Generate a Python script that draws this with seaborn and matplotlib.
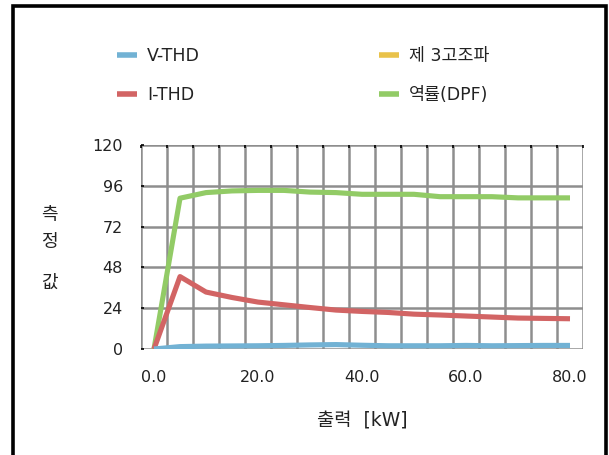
import numpy as np
import pandas as pd
import matplotlib
matplotlib.use("Agg")
import matplotlib.pyplot as plt
from matplotlib.lines import Line2D
from matplotlib.patches import Rectangle
import seaborn as sns

# 출력 [kW]
power_kw = [0, 5, 10, 15, 20, 25, 30, 35, 40, 45, 50, 55, 60, 65, 70, 75, 80]

v_thd = [0, 1.4, 1.7, 1.8, 1.9, 2.1, 2.4, 2.6, 2.2, 1.9, 1.9, 1.9, 2.1, 1.9, 2.0, 2.1, 2.1]
i_thd = [0, 42.6, 33.5, 30.3, 27.6, 26.0, 24.4, 22.9, 22.1, 21.5, 20.5, 20.0, 19.4,
         18.8, 18.2, 18.0, 17.8]
third_harmonic = [np.nan] * len(power_kw)
dpf = [0, 88.7, 92.0, 93.0, 93.3, 93.3, 92.3, 92.0, 91.0, 91.0, 91.0, 89.6, 89.6,
       89.6, 88.9, 88.9, 88.9]

series_names = ["V-THD", "I-THD", "제 3고조파", "역률(DPF)"]
series_values = [v_thd, i_thd, third_harmonic, dpf]
series_colors = ["#72B2D4", "#D26464", "#E9C24A", "#92CB66"]

y_ticks = [0, 24, 48, 72, 96, 120]
x_tick_values = [0, 20, 40, 60, 80]
x_tick_labels = ["0.0", "20.0", "40.0", "60.0", "80.0"]

sns.set_theme(style="white")
plt.rcParams["font.family"] = ["DejaVu Sans", "Noto Sans CJK KR"]

rows = []
for name, vals in zip(series_names, series_values):
    for x, v in zip(power_kw, vals):
        rows.append({"출력": x, "값": v, "항목": name})
df = pd.DataFrame(rows)
palette = dict(zip(series_names, series_colors))

W, H = 609, 455
fig = plt.figure(figsize=(W / 100, H / 100), dpi=100)
ax = fig.add_axes([141 / W, (H - 349) / H, (583 - 141) / W, (349 - 145) / H])

# draw order: bottom series first so the voltage THD line sits on top near zero
draw_order = ["역률(DPF)", "제 3고조파", "I-THD", "V-THD"]
for name in draw_order:
    sub = df[df["항목"] == name].dropna()
    if sub.empty:
        continue
    sns.lineplot(data=sub, x="출력", y="값", color=palette[name], linewidth=3.7,
                 ax=ax, legend=False, solid_capstyle="butt")

step = power_kw[1] - power_kw[0]
bounds = np.arange(power_kw[0] - step / 2, power_kw[-1] + step, step)
ax.set_xlim(bounds[0], bounds[-1])
ax.set_ylim(y_ticks[0], y_ticks[-1])

grid_color = "#8E8E8E"
for xb in bounds:
    ax.axvline(xb, color=grid_color, linewidth=1.8, zorder=0.5)
for yv in y_ticks:
    ax.axhline(yv, color=grid_color, linewidth=1.8, zorder=0.5)

for sp in ax.spines.values():
    sp.set_visible(False)

ax.set_yticks(y_ticks)
ax.set_yticklabels([str(v) for v in y_ticks])
ax.set_xticks(x_tick_values)
ax.set_xticklabels(x_tick_labels)
ax.set_xticks(bounds, minor=True)
ax.tick_params(axis="y", which="major", left=True, direction="in", length=2,
               width=1.2, color="black", pad=13, labelsize=11.5,
               labelcolor="#222222")
ax.tick_params(axis="x", which="major", length=0, pad=15, labelsize=11.5,
               labelcolor="#222222")
ax.tick_params(axis="x", which="minor", top=True, bottom=False, direction="in",
               length=2, width=1.2, color="black")
ax.set_xlabel("출력  [kW]", fontsize=13.5, labelpad=19, color="#222222")
ax.set_ylabel("")

# vertical stacked y label
for ch, yp in zip(["측", "정", "값"], [215, 242, 283]):
    fig.text(49 / W, 1 - yp / H, ch, ha="center", va="center", fontsize=13,
             color="#222222")

handles = [Line2D([0], [0], color=c, linewidth=4, solid_capstyle="butt")
           for c in series_colors]
fig.legend(handles, series_names, ncol=2, loc="upper left",
           bbox_to_anchor=(101 / W, 1 - 31 / H), frameon=False, fontsize=12.5,
           handlelength=1.15, handletextpad=0.6, columnspacing=10.3,
           labelspacing=1.25, labelcolor="#222222")

fig.patches.append(Rectangle((13 / W, -0.05), (606 - 13) / W, 1.05 - 6 / H,
                             transform=fig.transFigure, fill=False,
                             edgecolor="black", linewidth=2.6))

fig.savefig("out.png", dpi=100)
